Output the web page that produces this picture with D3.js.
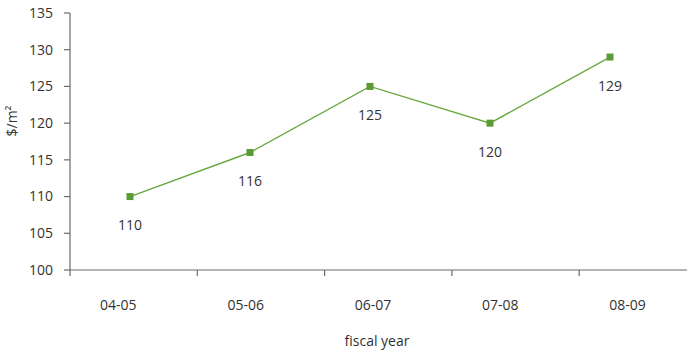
<!DOCTYPE html>
<html>
<head>
<meta charset="utf-8">
<script src="https://cdn.jsdelivr.net/npm/d3@7"></script>
<style>
  html, body { margin: 0; padding: 0; background: #fff; }
  svg { display: block; font-family: "Open Sans", "Noto Sans", sans-serif; }
</style>
</head>
<body>
<svg id="chart" width="687" height="352"></svg>
<script>
// Fiscal years and average cost per square metre
const categories = ["04-05", "05-06", "06-07", "07-08", "08-09"];
const values = [110, 116, 125, 120, 129];
const yTicks = [100, 105, 110, 115, 120, 125, 130, 135];
const yTitle = "$/m²";
const xTitle = "fiscal year";

const svg = d3.select("#chart");
const axisColor = "#6b6b6b";
const textColor = "#333333";
const lineColor = "#6aa842";
const markColor = "#5c9a35";

const plot = { left: 70, bottom: 270, top: 13, right: 687 };

const y = d3.scaleLinear().domain([100, 135]).range([plot.bottom, plot.top]);
// category bands (tick marks sit on band edges)
const xBand = d3.scaleBand().domain(categories).range([plot.left, plot.left + 5 * 127.3]).padding(0);
// data points
const xPt = d3.scalePoint().domain(categories).range([130, 610]);

// Y axis
const yAxis = svg.append("g");
yAxis.append("line")
  .attr("x1", plot.left).attr("x2", plot.left).attr("y1", plot.top).attr("y2", plot.bottom)
  .attr("stroke", axisColor).attr("stroke-width", 1.2);
yAxis.selectAll(".yt").data(yTicks).enter().append("line")
  .attr("x1", plot.left - 6).attr("x2", plot.left)
  .attr("y1", d => y(d)).attr("y2", d => y(d))
  .attr("stroke", axisColor).attr("stroke-width", 1.2);
yAxis.selectAll(".yl").data(yTicks).enter().append("text")
  .attr("x", 53).attr("y", d => y(d)).attr("dy", "0.35em")
  .attr("text-anchor", "end").attr("font-size", 14).attr("fill", textColor)
  .text(d => d);

// X axis
const xAxis = svg.append("g");
xAxis.append("line")
  .attr("x1", plot.left).attr("x2", plot.right).attr("y1", plot.bottom).attr("y2", plot.bottom)
  .attr("stroke", axisColor).attr("stroke-width", 1.2);
xAxis.selectAll(".xt").data(categories).enter().append("line")
  .attr("x1", d => xBand(d)).attr("x2", d => xBand(d))
  .attr("y1", plot.bottom).attr("y2", plot.bottom + 6)
  .attr("stroke", axisColor).attr("stroke-width", 1.2);
xAxis.selectAll(".xl").data(categories).enter().append("text")
  .attr("x", d => xBand(d) + xBand.bandwidth() * 0.38).attr("y", 305).attr("dy", "0.35em")
  .attr("text-anchor", "middle").attr("font-size", 14).attr("fill", textColor)
  .text(d => d);

// Axis titles
svg.append("text")
  .attr("transform", "translate(17,121) rotate(-90)")
  .attr("text-anchor", "middle").attr("font-size", 14).attr("fill", textColor)
  .text(yTitle);
svg.append("text")
  .attr("x", 377).attr("y", 341).attr("dy", "0.35em")
  .attr("text-anchor", "middle").attr("font-size", 14).attr("fill", textColor)
  .text(xTitle);

// Series line
const pts = categories.map((c, i) => ({ c, v: values[i] }));
svg.append("path")
  .datum(pts)
  .attr("fill", "none").attr("stroke", lineColor).attr("stroke-width", 1.4)
  .attr("d", d3.line().x(d => xPt(d.c)).y(d => y(d.v)));

// Square markers
svg.selectAll(".mk").data(pts).enter().append("rect")
  .attr("x", d => xPt(d.c) - 3.5).attr("y", d => y(d.v) - 3.5)
  .attr("width", 7).attr("height", 7).attr("fill", markColor);

// Value labels
svg.selectAll(".vl").data(pts).enter().append("text")
  .attr("x", d => xPt(d.c)).attr("y", d => y(d.v) + 29).attr("dy", "0.35em")
  .attr("text-anchor", "middle").attr("font-size", 14).attr("fill", textColor)
  .text(d => d.v);
</script>
</body>
</html>
